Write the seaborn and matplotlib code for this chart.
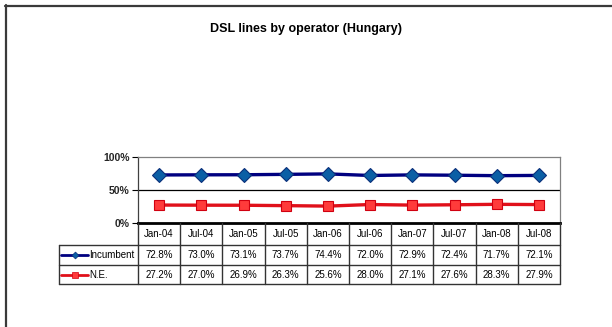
import matplotlib
matplotlib.use("Agg")
import matplotlib.pyplot as plt
from matplotlib.lines import Line2D
import seaborn as sns
import pandas as pd

# ---- data ----
periods = ["Jan-04", "Jul-04", "Jan-05", "Jul-05", "Jan-06",
           "Jul-06", "Jan-07", "Jul-07", "Jan-08", "Jul-08"]
incumbent = [72.8, 73.0, 73.1, 73.7, 74.4, 72.0, 72.9, 72.4, 71.7, 72.1]
new_entrants = [27.2, 27.0, 26.9, 26.3, 25.6, 28.0, 27.1, 27.6, 28.3, 27.9]
series_names = ["Incumbent", "N.E."]
y_ticks = [0, 50, 100]
title = "DSL lines by operator (Hungary)"

sns.set_theme(style="white")
plt.rcParams["font.family"] = ["Liberation Sans", "DejaVu Sans"]

W, H = 612, 327
fig = plt.figure(figsize=(W / 100, H / 100), dpi=100)
fig.patch.set_facecolor("white")


def fx(x):
    return x / W


def fy(y):
    return 1 - y / H


# plot area geometry (pixels)
left, right, top, bottom = 138, 560, 157, 223
ax = fig.add_axes([fx(left), fy(bottom), fx(right - left), (bottom - top) / H])

df = pd.DataFrame({
    "pos": list(range(len(periods))) * 2,
    "value": incumbent + new_entrants,
    "series": [series_names[0]] * len(periods) + [series_names[1]] * len(periods),
})

styles = {
    "Incumbent": dict(color="#000080", marker="D", markersize=7,
                      markerfacecolor="#0B5FA5", markeredgecolor="#0A2F7A"),
    "N.E.": dict(color="#E0101A", marker="s", markersize=7.5,
                 markerfacecolor="#FF3B3B", markeredgecolor="#D00010"),
}

for name in series_names:
    sub = df[df["series"] == name]
    st = styles[name]
    sns.lineplot(data=sub, x="pos", y="value", ax=ax, sort=False,
                 color=st["color"], linewidth=2.4, marker=st["marker"],
                 markersize=st["markersize"],
                 markerfacecolor=st["markerfacecolor"],
                 markeredgecolor=st["markeredgecolor"], markeredgewidth=0.8,
                 legend=False, zorder=3)

ax.set_xlim(-0.5, len(periods) - 0.5)
ax.set_ylim(0, 100)
ax.set_xticks([])
ax.set_yticks(y_ticks)
ax.set_yticklabels([f"{t}%" for t in y_ticks], fontsize=7.5, fontweight="bold")
ax.tick_params(axis="y", which="both", left=True, length=4, width=0.8,
               color="black", pad=2)
ax.set_xlabel("")
ax.set_ylabel("")
ax.axhline(50, color="black", linewidth=0.9, zorder=1)
for s in ["top", "right"]:
    ax.spines[s].set_color("#808080")
    ax.spines[s].set_linewidth(0.9)
ax.spines["left"].set_color("#404040")
ax.spines["left"].set_linewidth(0.9)
ax.spines["bottom"].set_color("black")
ax.spines["bottom"].set_linewidth(2.0)
ax.set_facecolor("white")

# ---- data table below the plot ----
row_y = [223, 245, 265, 284]
leg_left = 59
col_w = (right - left) / len(periods)
tbl_color = "#333333"


def hline(x0, x1, y, lw=1.0, c=tbl_color):
    fig.add_artist(Line2D([fx(x0), fx(x1)], [fy(y), fy(y)], color=c,
                          linewidth=lw, transform=fig.transFigure))


def vline(x, y0, y1, lw=1.0, c=tbl_color):
    fig.add_artist(Line2D([fx(x), fx(x)], [fy(y0), fy(y1)], color=c,
                          linewidth=lw, transform=fig.transFigure))


hline(leg_left, right, row_y[1])
hline(leg_left, right, row_y[2])
hline(leg_left, right, row_y[3])
vline(leg_left, row_y[1], row_y[3])
for i in range(len(periods) + 1):
    vline(left + i * col_w, row_y[0], row_y[3])

rows = [periods,
        [f"{v:.1f}%" for v in incumbent],
        [f"{v:.1f}%" for v in new_entrants]]
for r, cells in enumerate(rows):
    yc = (row_y[r] + row_y[r + 1]) / 2
    for i, txt in enumerate(cells):
        xc = left + (i + 0.5) * col_w
        fig.text(fx(xc), fy(yc), txt, ha="center", va="center", fontsize=7,
                 color="black")

# legend keys in the first column
for r, name in enumerate(series_names):
    st = styles[name]
    yc = (row_y[r + 1] + row_y[r + 2]) / 2
    fig.add_artist(Line2D([fx(61), fx(88)], [fy(yc), fy(yc)],
                          color=st["color"], linewidth=2.0,
                          transform=fig.transFigure))
    fig.add_artist(Line2D([fx(74.5)], [fy(yc)], color=st["color"],
                          linestyle="none", marker=st["marker"],
                          markersize=3.5 if name == "Incumbent" else 4,
                          markerfacecolor=st["markerfacecolor"],
                          markeredgecolor=st["markeredgecolor"],
                          markeredgewidth=0.5, transform=fig.transFigure))
    fig.text(fx(89), fy(yc), name, ha="left", va="center", fontsize=7,
             color="black")

# title
fig.text(fx(306), fy(29), title, ha="center", va="center", fontsize=9,
         fontweight="bold", color="black")

# outer chart frame
fig.add_artist(Line2D([fx(5), fx(W)], [fy(5.5), fy(5.5)], color="#3a3a3a",
                      linewidth=1.6, transform=fig.transFigure))
fig.add_artist(Line2D([fx(5.5), fx(5.5)], [fy(5), fy(H)], color="#3a3a3a",
                      linewidth=1.6, transform=fig.transFigure))

fig.savefig("out.png", dpi=100, facecolor="white")
